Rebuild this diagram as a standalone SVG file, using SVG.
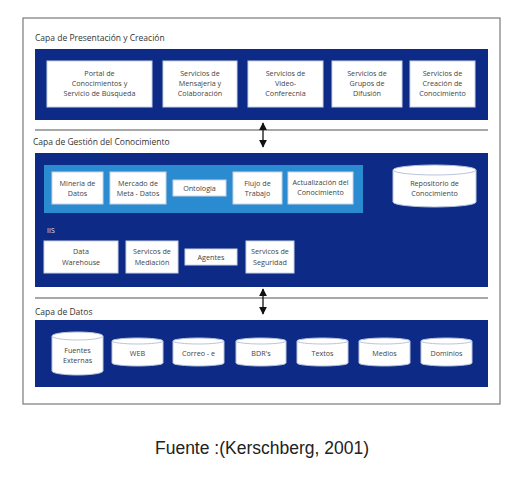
<svg xmlns="http://www.w3.org/2000/svg" width="526" height="480" viewBox="0 0 526 480">
<defs>
<style>
.bg{fill:#ffffff}
.frame{fill:none;stroke:#7a7a7a;stroke-width:1.2}
.band{fill:#0c2a86}
.panel{fill:#2b8bd0}
.box{fill:#ffffff;stroke:#c9d3e6;stroke-width:1}
.cyl{fill:#ffffff;stroke:#b9c4dc;stroke-width:1}
.sep{stroke:#8a8a8a;stroke-width:1.3}
.arr{stroke:#111;stroke-width:1.3;fill:none}
.t{font-family:"Open Sans","Liberation Sans",sans-serif;font-size:7.2px;fill:#444;text-anchor:middle}
.lbl{font-family:"Open Sans","Liberation Sans",sans-serif;font-size:8.5px;fill:#333}
.iis{font-family:"Open Sans","Liberation Sans",sans-serif;font-size:7px;fill:#dfe6f5}
.cap{font-family:"Liberation Sans",Arial,sans-serif;font-size:17.5px;fill:#222;text-anchor:middle}
</style>
<marker id="ah" viewBox="0 0 10 10" refX="9" refY="5" markerWidth="6" markerHeight="6" orient="auto-start-reverse"><path d="M0,0 L10,5 L0,10 z" fill="#111"/></marker>
</defs>
<rect class="bg" x="0" y="0" width="526" height="480"/>
<rect class="frame" x="23" y="18" width="477" height="386"/>

<g id="layer-presentation">
<text class="lbl" x="35" y="41">Capa de Presentación y Creación</text>
<rect class="band" x="35" y="49" width="453" height="71"/>
</g>
<g id="portal"><rect class="box" x="47" y="61" width="105" height="46"/><text class="t" x="99.5" y="76">Portal de</text><text class="t" x="99.5" y="86">Conocimientos y</text><text class="t" x="99.5" y="96">Servicio de Búsqueda</text></g>
<g id="mensajeria"><rect class="box" x="163" y="61" width="74" height="46"/><text class="t" x="200" y="76">Servicios de</text><text class="t" x="200" y="86">Mensajeria y</text><text class="t" x="200" y="96">Colaboración</text></g>
<g id="video"><rect class="box" x="248" y="61" width="75" height="46"/><text class="t" x="285.5" y="76">Servicios de</text><text class="t" x="285.5" y="86">Video-</text><text class="t" x="285.5" y="96">Conferecnia</text></g>
<g id="grupos"><rect class="box" x="332" y="61" width="70" height="46"/><text class="t" x="367" y="76">Servicios de</text><text class="t" x="367" y="86">Grupos de</text><text class="t" x="367" y="96">Difusión</text></g>
<g id="creacion"><rect class="box" x="410" y="61" width="65" height="46"/><text class="t" x="442.5" y="76">Servicios de</text><text class="t" x="442.5" y="86">Creación de</text><text class="t" x="442.5" y="96">Conocimiento</text></g>

<g id="layer-gestion">
<text class="lbl" x="33" y="145">Capa de Gestión del Conocimiento</text>
<rect class="band" x="35" y="153" width="453" height="134"/>
<rect class="panel" x="44" y="165" width="319" height="48"/>
<text class="iis" x="47" y="233">IIS</text>
</g>
<g id="mineria"><rect class="box" x="52" y="172" width="51" height="32"/><text class="t" x="77.5" y="186">Mineria de</text><text class="t" x="77.5" y="196">Datos</text></g>
<g id="mercado"><rect class="box" x="110" y="172" width="56" height="32"/><text class="t" x="138" y="186">Mercado de</text><text class="t" x="138" y="196">Meta - Datos</text></g>
<g id="ontologia"><rect class="box" x="173" y="180" width="53" height="16"/><text class="t" x="199.5" y="190.5">Ontologia</text></g>
<g id="flujo"><rect class="box" x="233" y="172" width="49" height="32"/><text class="t" x="257.5" y="186">Flujo de</text><text class="t" x="257.5" y="196">Trabajo</text></g>
<g id="actualizacion"><rect class="box" x="288" y="172" width="65" height="32"/><text class="t" x="320.5" y="185">Actualización del</text><text class="t" x="320.5" y="195">Conocimiento</text></g>
<g id="repositorio"><path class="cyl" d="M393,170 A41.5,5 0 0 1 476,170 L476,202 A41.5,5 0 0 1 393,202 Z"/><path d="M393,170 A41.5,5 0 0 0 476,170" fill="none" stroke="#b9c4dc"/><text class="t" x="434.5" y="186">Repositorio de</text><text class="t" x="434.5" y="196">Conocimiento</text></g>
<g id="warehouse"><rect class="box" x="44" y="241" width="74" height="32"/><text class="t" x="81" y="254">Data</text><text class="t" x="81" y="265">Warehouse</text></g>
<g id="mediacion"><rect class="box" x="126" y="241" width="52" height="32"/><text class="t" x="152" y="254">Servicos de</text><text class="t" x="152" y="265">Mediación</text></g>
<g id="agentes"><rect class="box" x="185" y="249" width="52" height="16"/><text class="t" x="211" y="259.5">Agentes</text></g>
<g id="seguridad"><rect class="box" x="246" y="241" width="48" height="32"/><text class="t" x="270" y="254">Servicos de</text><text class="t" x="270" y="265">Seguridad</text></g>

<g id="layer-datos">
<text class="lbl" x="35" y="315">Capa de Datos</text>
<rect class="band" x="35" y="320" width="453" height="67"/>
</g>
<g id="fuentes"><path class="cyl" d="M52,336 A25.5,4 0 0 1 103,336 L103,371 A25.5,4 0 0 1 52,371 Z"/><path d="M52,336 A25.5,4 0 0 0 103,336" fill="none" stroke="#b9c4dc"/><text class="t" x="77.5" y="353">Fuentes</text><text class="t" x="77.5" y="363">Externas</text></g>
<g id="web"><path class="cyl" d="M112,341 A25.5,3 0 0 1 163,341 L163,363 A25.5,3 0 0 1 112,363 Z"/><path d="M112,341 A25.5,3 0 0 0 163,341" fill="none" stroke="#b9c4dc"/><text class="t" x="137.5" y="356">WEB</text></g>
<g id="correo"><path class="cyl" d="M173,341 A25.5,3 0 0 1 224,341 L224,363 A25.5,3 0 0 1 173,363 Z"/><path d="M173,341 A25.5,3 0 0 0 224,341" fill="none" stroke="#b9c4dc"/><text class="t" x="198.5" y="356">Correo - e</text></g>
<g id="bdr"><path class="cyl" d="M236,341 A25,3 0 0 1 286,341 L286,363 A25,3 0 0 1 236,363 Z"/><path d="M236,341 A25,3 0 0 0 286,341" fill="none" stroke="#b9c4dc"/><text class="t" x="261" y="356">BDR's</text></g>
<g id="textos"><path class="cyl" d="M297,341 A25.5,3 0 0 1 348,341 L348,363 A25.5,3 0 0 1 297,363 Z"/><path d="M297,341 A25.5,3 0 0 0 348,341" fill="none" stroke="#b9c4dc"/><text class="t" x="322.5" y="356">Textos</text></g>
<g id="medios"><path class="cyl" d="M359,341 A25.5,3 0 0 1 410,341 L410,363 A25.5,3 0 0 1 359,363 Z"/><path d="M359,341 A25.5,3 0 0 0 410,341" fill="none" stroke="#b9c4dc"/><text class="t" x="384.5" y="356">Medios</text></g>
<g id="dominios"><path class="cyl" d="M421,341 A25.5,3 0 0 1 472,341 L472,363 A25.5,3 0 0 1 421,363 Z"/><path d="M421,341 A25.5,3 0 0 0 472,341" fill="none" stroke="#b9c4dc"/><text class="t" x="446.5" y="356">Dominios</text></g>

<g id="connectors">
<line class="sep" x1="35" y1="130" x2="488" y2="130"/>
<line class="sep" x1="35" y1="298" x2="488" y2="298"/>
<line class="arr" x1="263" y1="123" x2="263" y2="147" marker-start="url(#ah)" marker-end="url(#ah)"/>
<line class="arr" x1="263" y1="289" x2="263" y2="314" marker-start="url(#ah)" marker-end="url(#ah)"/>
</g>

<text class="cap" x="262" y="454">Fuente :(Kerschberg, 2001)</text>
</svg>
